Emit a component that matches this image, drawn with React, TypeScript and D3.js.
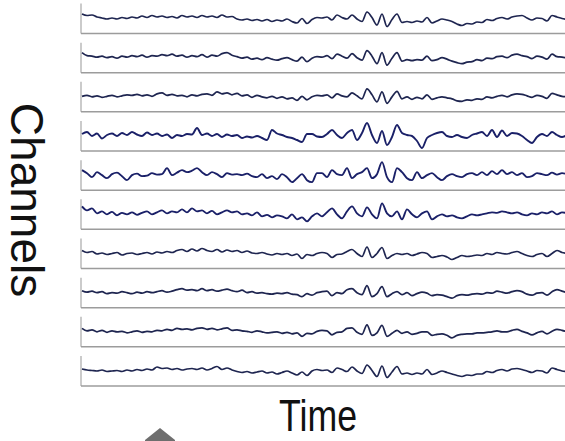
import { useEffect, useRef } from 'react';
import * as d3 from 'd3';

// one value every 5px (px above the channel's midline)
const ch1 = [
  3.5, 2, 2.5, 0.5, -0.5, -1.5, -0.5, -1.5, 0, -1,
  0.5, -0.5, 1.5, 0, 2, 0.5, 1.5, 0, 1, -0.5,
  2, 0.5, 1.5, 0, 2, 0.5, 1.5, 0, 2.5, 0.5,
  1, -1.5, -2.5, -1.5, -3, -2, -3.5, -2, -4, -2.5,
  -3.5, -1.5, -4, -5.5, -1, -6, -2, 0, -0.5, 0.5,
  -2.5, 2.5, 0, -1.5, 2.5, -1.5, -4, 5.5, 0, -7.5,
  3.5, -9, -2, 3.5, -5, -4, -5, -3.5, -4.5, 0,
  -5.5, -3.5, -1.5, -2.5, -4, -6.5, -8, -6, -6.5, -4.5,
  -5, -2, -3, -1, 0, -1.5, 0.5, 1.5, 2, -0.5,
  -2.5, -0.5, -1, -3.5, 2, 0.5, -1, -2,
];
const ch2 = [
  4, 1, 0.5, -0.5, 0.5, -1, 0, -1.5, 0.5, -0.5,
  1, 0, 1.5, -0.5, 1, 0.5, 2, 1, 2.5, 0.5,
  1.5, -0.5, 1, 0, 2, -0.5, 1.5, 0.5, 3, 4,
  1.5, 0, -1.5, -0.5, -2.5, -1.5, -3, -1, -2.5, -3.5,
  -2, -1, -3, -4.5, -0.5, -5, -1.5, 0, -0.5, 1,
  -2, 2.5, 0.5, -1.5, 3, -1, -3.5, 6, 0.5, -7,
  4, -8.5, -1.5, 4, -4.5, -3, -4, -3, -3.5, 0.5,
  -4, -3, -1, -2.5, -4.5, -6, -7, -5.5, -5, -3,
  -4, -1.5, -2, 0, 0.5, -1, 1.5, 2.5, 1, 0,
  -2, 0.5, -0.5, -2.5, 2.5, 0, -0.5, -1.5,
];
const ch3 = [
  -0.5, 0.5, -1, 0, -1.5, -0.5, 0.5, -1, 0, 1,
  0.5, 1.5, 0, 1, -0.5, 2, 3, 0.5, 1.5, 0,
  0.5, -1, 1, 0, 1.5, 2, 0.5, 4, 2, 3,
  1, 2.5, 0, 1, -1.5, 0.5, -1, -2, -0.5, -2.5,
  -1, -3, -2, -4.5, -0.5, -4, -1, 0.5, 0, 1,
  -2, 2, 0, -1, 3, 0, -3, 7, 1, -6,
  4, -7.5, -1, 4.5, -3, -1, -3.5, -1.5, -3, 1,
  -3.5, -2, -1, -2, -3, -5, -5.5, -4, -4.5, -3,
  -3.5, -1, -2, -0.5, 0.5, -1, 1, 2, 1.5, 0,
  -1.5, 0.5, -0.5, -2.5, 2.5, 1, -0.5, -1,
];
const ch4 = [
  1, 3, -1, 1.5, -3.5, 0, 1.5, -1, 2, 0,
  3, 0.5, -1, 2.5, 0, 1.5, -1, 0.5, -3, 0,
  -1, 1, 0.5, 7, 0, 1.5, -1, 1, -2, 0.5,
  -1, 0, -3, -1.5, -2.5, -1, -3, -5, 5, 1.5,
  0, -2, -3, -5, -7, 1, 1, -1.5, -2, 1,
  5, 0, -3, 2, 5, -5, 2, 12, 0, -8,
  4, -10, -2, 10, 2, 0, -1, -6, -13, -3,
  0, 2, 3, -1, -2, 0, -2, -3, 0, 1.5,
  3, -1, 5, -2, 4.5, -1, 2, 1.5, -1, -5,
  -8, -2, 1, -1, 3, 0, -2, 0,
];
const ch5 = [
  4, 1, -3, 2, -1, -4, 0, 1.5, -2, -6,
  -1, 0.5, -2, -1.5, 1, -0.5, 0, 6, -1, 1.5,
  4, 2, 3.5, 6, 2, -1, 2, 0, -3, 1,
  -0.5, 0, -1, 0.5, -2, -3, 0, -4, -2, -5,
  0, -3, -8, -4, 0, -6, -8, 1, 1, -3,
  4, 0, -1, 6, -4, 0, 2, 6, -4, 0,
  12, -3, -8, 6, 2, -4, -6, 2, -4, -1,
  1, -3, -6, -2, 0, -2, -3, 0, 1, -1,
  2, -1, 3, 0, 4, 0, 2, -1, 1, -3,
  -2, 1, 0, -1, 1.5, -0.5, 1, 0,
];
const ch6 = [
  7, 3, 5, 0, 2, -1, 1.5, -2, 0.5, -1,
  1, -1.5, 0.5, 2, -1, 1, 3, 0, 2, 1,
  4, 1, 5, 2, 3, 0, 2.5, -1, 1, 3,
  1, 2, -1, 0, -2, 1, -3, -1.5, -4, -2,
  -3, -5, -1, -6, -4, -8, -3, 0, -3, 1,
  5, -1, -5, 2, 7, 0, -3, 6, -1, -5,
  10, 0, -3, 2, -6, 4, -1, -4, 0, 2,
  -6, -3, -1, -3, -2, -4, -5, -3, -1, -2,
  -1, 0, 1, 0.5, 2, 1, 0, 1, -1, -2,
  0, -1, 1, 0, 2, -1, 1, 0,
];
const ch7 = [
  2, 0, 1, -1.5, -0.5, -2, -1, 0, -2.5, -1,
  -0.5, -2, -1, 0, -1.5, 0.5, -0.5, 1, 0, 2,
  3, 1, 3.5, 1.5, 4, 2, 1, 3, 0.5, 2.5,
  1, 2, 0, 1.5, -0.5, -1, 0, -1.5, -2.5, -1,
  -2, -1, -3, -1.5, -6, -2, -3, -1, 0, -1,
  -5, -2, -1.5, 1, 3, -1, -4, 5.5, -5, -1,
  5, -6, -3, -1, -2, -1, -3, -1.5, 0, -1,
  -5, -4, -3, -4.5, -7, -5, -3, -4, -3.5, -2.5,
  -3, -1, -2, 0, -1, -1.5, 0, 1, -1, -3,
  -4, -2, -1, -4, -1, 2, 0, -1,
];
const ch8 = [
  1, -0.5, 0.5, -1, 0, -2, -1, -1.5, 0, -1,
  -2, -0.5, -1.5, 0, -1, 0, 1, -0.5, 0.5, 2,
  3, 1.5, 2, 1, 3, 1, 2, 0.5, 1.5, 2.5,
  1, 0, 1.5, -1, 0, -1.5, -1, -2, -2.5, -1.5,
  -2, -1, -2.5, -3, -5, -2, -3.5, -1, 0, 0.5,
  -4, -1, -2, 2, 3, -1, -3, 6, -5, -2,
  5, -5, -2, 0, -3, -1, -4, -2, -0.5, -1.5,
  -4, -3, -3.5, -5, -6.5, -4, -3, -3.5, -2.5, -2,
  -2.5, -1, -1.5, 0.5, -0.5, -1.5, 0, 1, 0, -2.5,
  -3.5, -1.5, -1, -3.5, 0, 2, 0.5, -1,
];
const ch9 = [
  2.5, 0, 1, -1, 0.5, -1.5, 0, -1, -0.5, -2,
  -1, 0, -1.5, -0.5, -1, 0.5, 0, 1.5, 0.5, 2.5,
  1.5, 2, 1, 2.5, 3, 1.5, 2.5, 1, 2, 3,
  0.5, 1, 0, -0.5, -1.5, 0, -1, -2, -1.5, -1,
  -2.5, -1.5, -3, -2, -5.5, -2.5, -3, -0.5, 0.5, 0,
  -4, -1.5, -1, 2.5, 3, -1.5, -3.5, 6, -4.5, -2,
  5.5, -5.5, -2.5, 0.5, -2.5, -1, -3.5, -2.5, -1, -1,
  -4.5, -3.5, -3, -4.5, -7, -4.5, -3.5, -3, -3, -2,
  -2, -1.5, -1, 0, -1, -1, 0.5, 1.5, -0.5, -2,
  -4, -2, -0.5, -3, -0.5, 1.5, 0.5, -1,
];
const ch10 = [
  1, 0, -0.5, -1, 0, -1.5, -1, -0.5, -1.5, 0,
  -1, 0.5, -0.5, 1, 0, 3, 1.5, 2, 0.5, 1.5,
  0, 1, 1.5, 0.5, 2, 0, 1.5, 3.5, 0.5, 2,
  0, -1.5, -2.5, -1.5, -3, -2, -1, -3, -2, -4,
  -2.5, -1, -3, -5, -2, -5.5, -1, 0.5, -0.5, 0,
  -2.5, 2, 0.5, -1.5, 3, -1, -3.5, 5, -0.5, -6.5,
  4, -7.5, -2, 3.5, -4, -3, -4.5, -3, -4, 0.5,
  -4.5, -3, -1, -2.5, -4, -5.5, -6.5, -5, -5.5, -4,
  -4, -1.5, -2.5, -0.5, 0.5, -1, 1, 1.5, 0.5, -1,
  -2.5, -0.5, -1, -3, 2, 0.5, -1, -1.5,
];

const channels = [ch1, ch2, ch3, ch4, ch5, ch6, ch7, ch8, ch9, ch10];
// the busier channels in the middle are drawn a little bluer
const busyChannels = [3, 4, 5];
const xLabel = 'Time';
const yLabel = 'Channels';

const App = () => {
  const svgRef = useRef<SVGSVGElement>(null);

  useEffect(() => {
    const width = 565;
    const height = 441;
    const svg = d3.select(svgRef.current);
    svg.selectAll('*').remove();
    svg.attr('width', width).attr('height', height);

    const left = 81;
    const panelH = 30;

    const x = d3.scaleLinear().domain([0, 97]).range([82, 567]);
    // bottom edge of each channel strip
    const bottom = d3.scaleLinear().domain([0, channels.length - 1]).range([33.5, 386]);

    channels.forEach((vals, k) => {
      const b = bottom(k);
      const y = d3.scaleLinear().domain([-16, 14]).range([b, b - panelH]);
      const g = svg.append('g');

      g.append('line')
        .attr('x1', left).attr('x2', left)
        .attr('y1', b - panelH).attr('y2', b)
        .attr('stroke', '#a8a8a8')
        .attr('stroke-width', 1.2);

      g.append('line')
        .attr('x1', left).attr('x2', width)
        .attr('y1', b).attr('y2', b)
        .attr('stroke', '#9c9c9c')
        .attr('stroke-width', 1.5);

      const line = d3.line<number>()
        .x((d, i) => x(i))
        .y(d => y(d))
        .curve(d3.curveMonotoneX);

      g.append('path')
        .datum(vals)
        .attr('fill', 'none')
        .attr('stroke', busyChannels.includes(k) ? '#1a2068' : '#1e2550')
        .attr('stroke-width', busyChannels.includes(k) ? 1.9 : 1.7)
        .attr('stroke-linejoin', 'round')
        .attr('d', line);
    });

    // axis titles
    svg.append('text')
      .attr('transform', 'translate(11,200) rotate(90)')
      .attr('text-anchor', 'middle')
      .attr('font-family', 'Liberation Sans, Arial, sans-serif')
      .attr('font-size', 46)
      .attr('fill', '#111')
      .text(yLabel);

    svg.append('text')
      .attr('x', 279)
      .attr('y', 431)
      .attr('textLength', 78)
      .attr('lengthAdjust', 'spacingAndGlyphs')
      .attr('font-family', 'Liberation Sans, Arial, sans-serif')
      .attr('font-size', 45)
      .attr('fill', '#111')
      .text(xLabel);

    // grey arrow tip peeking in at the bottom
    svg.append('polygon')
      .attr('points', '160,428 175,440 175,445 145,445 145,440')
      .attr('fill', '#6e6e6e');
  }, []);

  return <svg ref={svgRef} style={{ position: 'absolute', left: 0, top: 0 }} />;
};

export default App;
